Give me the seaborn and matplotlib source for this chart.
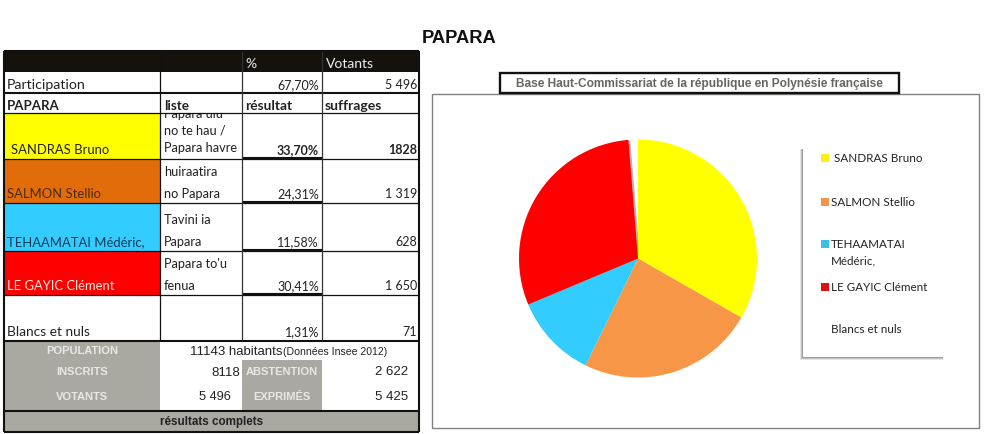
import matplotlib
matplotlib.use("Agg")
import matplotlib.pyplot as plt
from matplotlib.patches import Rectangle
import seaborn as sns

sns.set_theme(style="white")
plt.rcParams['font.family'] = ['Lato', 'DejaVu Sans']

# ---------- data ----------
title = "PAPARA"
chart_title = "Base Haut-Commissariat de la république en Polynésie française"
candidates = ["SANDRAS Bruno", "SALMON Stellio", "TEHAAMATAI Médéric,", "LE GAYIC Clément", "Blancs et nuls"]
legend_labels = ["SANDRAS Bruno", "SALMON Stellio", "TEHAAMATAI\nMédéric,", "LE GAYIC Clément", "Blancs et nuls"]
lists_ = ["Papara ulu\nno te hau /\nPapara havre", "huiraatira\nno Papara", "Tavini ia\nPapara", "Papara to'u\nfenua", ""]
percent_labels = ["33,70%", "24,31%", "11,58%", "30,41%", "1,31%"]
votes_labels = ["1828", "1 319", "628", "1 650", "71"]
shares = [33.70, 24.31, 11.58, 30.41, 1.31]
row_colors = ["#ffff00", "#e36c0a", "#33ccff", "#ff0000", "#ffffff"]
pie_colors = ["#ffff00", "#f79646", "#33ccff", "#ff0000", "none"]
shadow_colors = ["none", "none", "none", "#b5b5b5", "none"]
legend_marks = ["#ffee11", "#ee9650", "#40bce8", "#dd1111", "#ffffff"]
name_text_colors = ["#222222", "#4a2a10", "#123a55", "#ffe8e0", "#222222"]

fig = plt.figure(figsize=(9.87, 4.35), dpi=100, facecolor="white")
ax = fig.add_axes([0, 0, 1, 1])
ax.set_xlim(0, 987)
ax.set_ylim(435, 0)
ax.axis("off")

def box(x0, y0, x1, y1, fc="none", ec="none", lw=0, z=1, alpha=None):
    r = Rectangle((x0, y0), x1 - x0, y1 - y0, facecolor=fc, edgecolor=ec, linewidth=lw, zorder=z, alpha=alpha)
    ax.add_patch(r)
    return r

def txt(x, y, s, size=9.0, color="#222222", ha="left", va="baseline", **kw):
    return ax.text(x, y, s, fontsize=size, color=color, ha=ha, va=va, zorder=5, **kw)

arial = ["Liberation Sans"]
ax.text(459.5, 38.5, title, fontsize=13.2, fontweight="bold", family=arial, color="#111111",
        ha="center", va="center")

# ---------- table ----------
cols = [4, 160, 242, 322, 419]
k = "#15110c"
grey = "#aaa9a1"
box(4, 52, 419, 73, fc=k)
txt(245, 68, "%", color="#eeeeee", size=10)
txt(326, 68, "Votants", color="#eeeeee", size=10)

txt(7, 89, "Participation", size=10.2)
txt(319, 89, "67,70%", ha="right")
txt(417, 89, "5 496", ha="right")

txt(7, 110, "PAPARA", fontweight="bold", size=9.5)
txt(164, 110, "liste", fontweight="bold", size=9.7)
txt(245, 110, "résultat", fontweight="bold", size=9.9)
txt(325, 110, "suffrages", fontweight="bold", size=10.1)

rows = [114, 160, 204, 252, 296, 341]
base = [154, 198, 246, 290, 336]
for i in range(5):
    box(4, rows[i], 160, rows[i + 1], fc=row_colors[i])
    xn = 11 if i == 0 else 7
    txt(xn, base[i], candidates[i], color=name_text_colors[i], size=9.4 if i != 4 else 9.9)
    bold = i == 0
    txt(319, base[i], percent_labels[i], ha="right", fontweight="bold" if bold else "normal")
    txt(417, base[i], votes_labels[i], ha="right", fontweight="bold" if bold else "normal")
    if lists_[i]:
        lines = lists_[i].split("\n")
        for j, line in enumerate(reversed(lines)):
            y = 152 - 17 * j if i == 0 else base[i] - 21.5 * j
            t = txt(164, y, line, size=9.2)
            t.set_clip_on(True)
            t.set_clip_path(Rectangle((160, 114.5), 90, 190, transform=ax.transData))

box(4, 342, 160, 412, fc=grey)
box(242, 361, 322, 412, fc=grey)
box(4, 412, 419, 433, fc=grey)

txt(82, 351, "POPULATION", ha="center", va="center", color="#e8e8e4", size=8, fontweight="bold", family=arial)
txt(82, 372, "INSCRITS", ha="center", va="center", color="#e8e8e4", size=8, fontweight="bold", family=arial)
txt(82, 397, "VOTANTS", ha="center", va="center", color="#e8e8e4", size=8, fontweight="bold", family=arial)
txt(282, 372, "ABSTENTION", ha="center", va="center", color="#e8e8e4", size=8, fontweight="bold", family=arial)
txt(282, 397, "EXPRIMÉS", ha="center", va="center", color="#e8e8e4", size=8, fontweight="bold", family=arial)
txt(190, 352, "11143 habitants", va="center", size=9.5, family=arial)
txt(283, 352.5, "(Données Insee 2012)", va="center", size=7.6, family=arial)
txt(240, 373, "8118", ha="right", va="center", size=9.5, family=arial)
txt(231, 397, "5 496", ha="right", va="center", size=9.2, family=arial)
txt(408, 372, "2 622", ha="right", va="center", size=9.5, family=arial)
txt(408, 397, "5 425", ha="right", va="center", size=9.5, family=arial)
txt(212, 422, "résultats complets", ha="center", va="center", size=8.4, fontweight="bold", family=arial)

# grid lines
def hl(y, x0=4, x1=419, lw=1.3, c="#111111"):
    ax.plot([x0, x1], [y, y], color=c, lw=lw, zorder=4, solid_capstyle="butt")
def vl(x, y0, y1, lw=1.0, c="#111111"):
    ax.plot([x, x], [y0, y1], color=c, lw=lw, zorder=4, solid_capstyle="butt")
for y in [114, 160, 204, 252, 296]:
    hl(y, lw=0.9)
for y in [94, 341.5, 412, 433]:
    hl(y, lw=1.5)
for y in [158.5, 203, 251, 295]:
    hl(y, x0=242, x1=322, lw=1.5)
for x in cols[1:4]:
    vl(x, 52, 341, lw=0.9, c="#333333" if x != 160 else "#111111")
vl(4, 52, 433, lw=1.5)
vl(419, 52, 433, lw=1.5)
hl(52, lw=1.5)

# ---------- chart frame ----------
box(432, 94.5, 979, 428.5, fc="white", ec="#808080", lw=1.0, z=1)
box(499.5, 73.5, 899, 94, fc="white", ec="#111111", lw=1.7, z=2)
txt(699.5, 84, chart_title, ha="center", va="center", size=8.6, color="#666660",
    fontweight="bold", family=arial)

# ---------- legend ----------
for d, a in [(3, 0.18), (2, 0.3), (1, 0.45)]:
    box(803 - d, 150, 943, 358 + d, fc="#707070", z=2, alpha=a)
box(803, 147, 943, 358, fc="white", z=3)
leg_y = [159, 202.5, 244.5, 287.5, 329.5]
for i, lab in enumerate(legend_labels):
    if i < 4:
        ax.add_patch(Rectangle((820.5, leg_y[i] - 4), 8, 8, facecolor=legend_marks[i], edgecolor="none", zorder=5))
    x = 834 if i == 0 else 831
    txt(x, leg_y[i], lab.split("\n")[0], va="center", size=8.4)
    if "\n" in lab:
        txt(x, leg_y[i] + 16, lab.split("\n")[1], va="center", size=8.4)

# ---------- pie ----------
W, H = 987.0, 435.0
size = 250
cx, cy = 638, 259.5
pax = fig.add_axes([(cx - size / 2) / W, 1 - (cy + size / 2) / H, size / W, size / H], zorder=3)
pax.set_aspect("equal")
pax.patch.set_alpha(0)
pax.pie(shares, colors=shadow_colors, startangle=90, counterclock=False,
        radius=119 / 125, center=(0.016, -0.004), wedgeprops=dict(linewidth=0))
pax.pie(shares, colors=pie_colors, startangle=90, counterclock=False,
        radius=119 / 125, center=(0, 0), wedgeprops=dict(linewidth=0))
pax.set_xlim(-1, 1)
pax.set_ylim(-1, 1)
pax.axis("off")
fig.savefig("out.png", dpi=100)
